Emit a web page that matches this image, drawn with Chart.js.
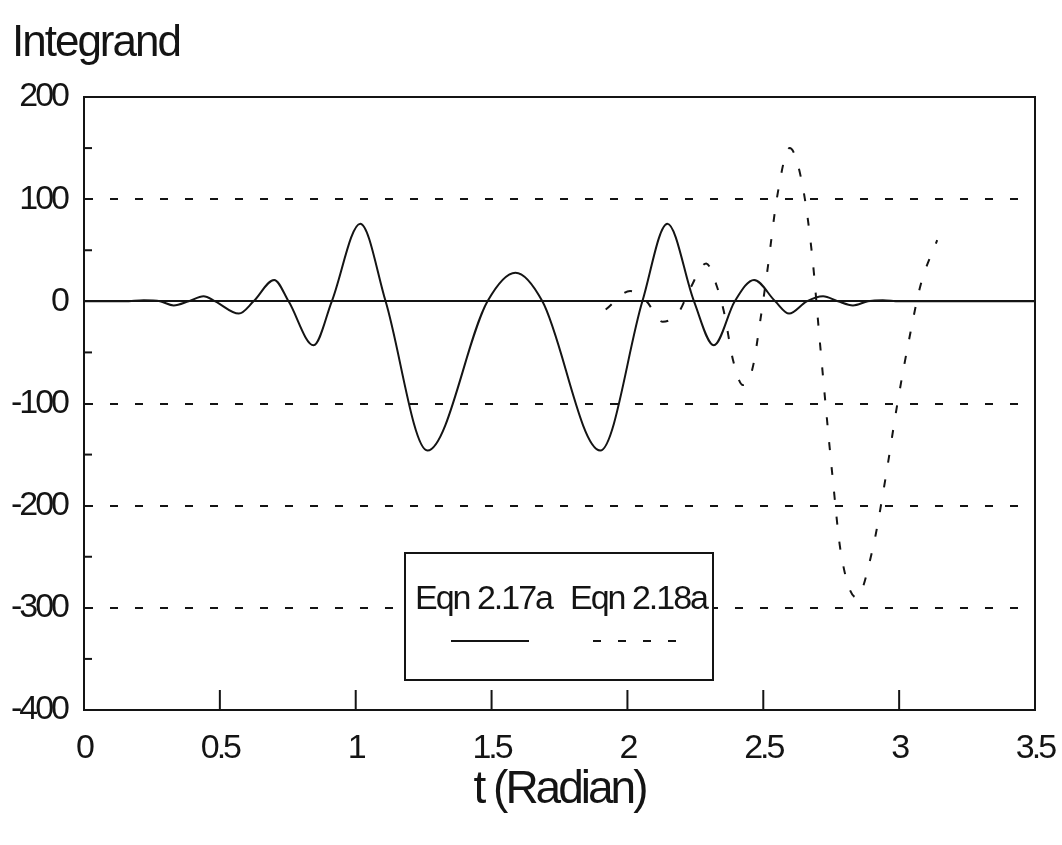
<!DOCTYPE html>
<html><head><meta charset="utf-8">
<script src="https://cdn.jsdelivr.net/npm/chart.js@4/dist/chart.umd.min.js"></script>
<style>html,body{margin:0;padding:0;background:#fff}</style>
</head><body>
<canvas id="c" width="1062" height="845"></canvas>
<script>
const FONT = '"Liberation Sans", Arial, sans-serif';
const INK = '#141414';

const seriesNames = ['Eqn 2.17a', 'Eqn 2.18a'];
const yAxisTitle = 'Integrand';
const xAxisTitle = 't (Radian)';
const xTickLabels = ['0', '0.5', '1', '1.5', '2', '2.5', '3', '3.5'];
const yTickLabels = ['-400', '-300', '-200', '-100', '0', '100', '200'];

// Eqn 2.17a (solid)
const solidT = [0, 0.15, 0.22, 0.28, 0.33, 0.385, 0.44, 0.483, 0.57, 0.624, 0.70, 0.753, 0.845, 0.912, 1.017, 1.11, 1.264, 1.485, 1.588, 1.687, 1.90, 2.055, 2.147, 2.245, 2.318, 2.395, 2.466, 2.544, 2.595, 2.66, 2.72, 2.775, 2.83, 2.885, 2.94, 3.0, 3.5];
const solidV = [0, 0, 1, 0, -4, 0, 5, 0, -12, 0, 21, 0, -43, 0, 76, 0, -146, 0, 28, 0, -146, 0, 76, 0, -43, 0, 21, 0, -12, 0, 5, 0, -4, 0, 1, 0, 0];

// Eqn 2.18a (dashed)
const dashT = [1.92, 2.01, 2.07, 2.13, 2.19, 2.23, 2.29, 2.33, 2.355, 2.39, 2.425, 2.46, 2.49, 2.515, 2.552, 2.597, 2.644, 2.681, 2.705, 2.73, 2.755, 2.785, 2.843, 2.902, 2.95, 2.993, 3.042, 3.08, 3.14];
const dashV = [-8, 10, 0, -20, -10, 12, 37, 14, -10, -59, -82, -66, -17, 30, 104, 150, 114, 42, -30, -103, -172, -245, -290, -243, -173, -101, -30, 17, 60];

const toPts = (ts, vs) => ts.map((t, i) => ({ x: t, y: vs[i] }));
const gridValues = [100, -100, -200, -300, 0];

const spacing = {
  id: 'spacing',
  beforeUpdate(chart) { chart.ctx.letterSpacing = '-3px'; },
  beforeLayout(chart) { chart.ctx.letterSpacing = '-3px'; },
  beforeDraw(chart) { chart.ctx.letterSpacing = '-3px'; }
};

const decor = {
  id: 'decor',
  afterDraw(chart) {
    const { ctx, chartArea: a, scales } = chart;
    ctx.save();
    ctx.letterSpacing = '-2px';
    ctx.strokeStyle = INK;
    ctx.lineWidth = 2;
    ctx.setLineDash([]);
    // frame
    ctx.strokeRect(a.left, a.top, a.right - a.left, a.bottom - a.top);
    // inward x ticks
    scales.x.ticks.forEach(t => {
      if (t.value <= scales.x.min || t.value >= scales.x.max) return;
      const px = scales.x.getPixelForValue(t.value);
      ctx.beginPath(); ctx.moveTo(px, a.bottom); ctx.lineTo(px, a.bottom - 20); ctx.stroke();
    });
    // inward y minor ticks
    scales.y.ticks.forEach(t => {
      if (t.value % 100 === 0) return;
      const py = scales.y.getPixelForValue(t.value);
      ctx.beginPath(); ctx.moveTo(a.left, py); ctx.lineTo(a.left + 8, py); ctx.stroke();
    });
    // y axis title
    ctx.fillStyle = INK;
    ctx.font = '44px ' + FONT;
    ctx.textAlign = 'left';
    ctx.textBaseline = 'alphabetic';
    ctx.fillText(yAxisTitle, 12, 56);
    // legend
    const bx = 405, by = 553, bw = 308, bh = 127;
    ctx.fillStyle = '#fff';
    ctx.fillRect(bx, by, bw, bh);
    ctx.strokeRect(bx, by, bw, bh);
    ctx.fillStyle = INK;
    ctx.font = '34px ' + FONT;
    const ds = chart.data.datasets;
    const cols = [415, 570];
    const samp = [[451, 529], [593, 677]];
    ds.forEach((d, i) => {
      ctx.fillText(d.label, cols[i], 609);
      ctx.setLineDash(d.borderDash || []);
      ctx.beginPath();
      ctx.moveTo(samp[i][0], 641);
      ctx.lineTo(samp[i][1], 641);
      ctx.stroke();
    });
    ctx.restore();
  }
};

new Chart(document.getElementById('c'), {
  type: 'line',
  data: {
    datasets: [
      { label: seriesNames[0], data: toPts(solidT, solidV), borderColor: INK, borderWidth: 2, pointRadius: 0, cubicInterpolationMode: 'monotone', fill: false },
      { label: seriesNames[1], data: toPts(dashT, dashV), borderColor: INK, borderWidth: 2, borderDash: [8, 17], pointRadius: 0, cubicInterpolationMode: 'monotone', fill: false }
    ]
  },
  options: {
    responsive: false,
    animation: false,
    devicePixelRatio: 1,
    layout: { padding: { top: 97, right: 27, left: 0, bottom: 0 } },
    plugins: { legend: { display: false }, tooltip: { enabled: false } },
    scales: {
      x: {
        type: 'linear', min: 0, max: 3.5,
        afterFit: s => { s.height = 135; },
        ticks: {
          stepSize: 0.5, color: INK, padding: 3, maxRotation: 0, autoSkip: false,
          font: { family: FONT, size: 34, lineHeight: 2.1 },
          callback: v => { const i = Math.round(v / 0.5); return xTickLabels[i] ?? ''; }
        },
        grid: { color: 'rgba(0,0,0,0)', drawTicks: false },
        border: { display: true, color: INK, width: 2 },
        title: { display: true, text: xAxisTitle, color: INK, font: { family: FONT, size: 46 }, padding: { top: 0, bottom: 27 } }
      },
      y: {
        type: 'linear', min: -400, max: 200,
        afterFit: s => { s.width = 84; },
        ticks: {
          stepSize: 50, color: INK, padding: 17, autoSkip: false,
          font: { family: FONT, size: 34 },
          callback: v => (v % 100 === 0 ? yTickLabels[(v + 400) / 100] : '')
        },
        grid: {
          drawTicks: false, lineWidth: 2,
          color: c => (c.tick && gridValues.includes(c.tick.value) ? INK : 'rgba(0,0,0,0)')
        },
        border: {
          display: true, color: INK, width: 2,
          dash: c => (c.tick && c.tick.value === 0 ? [] : [8, 17])
        }
      }
    }
  },
  plugins: [spacing, decor]
});
</script>
</body></html>
